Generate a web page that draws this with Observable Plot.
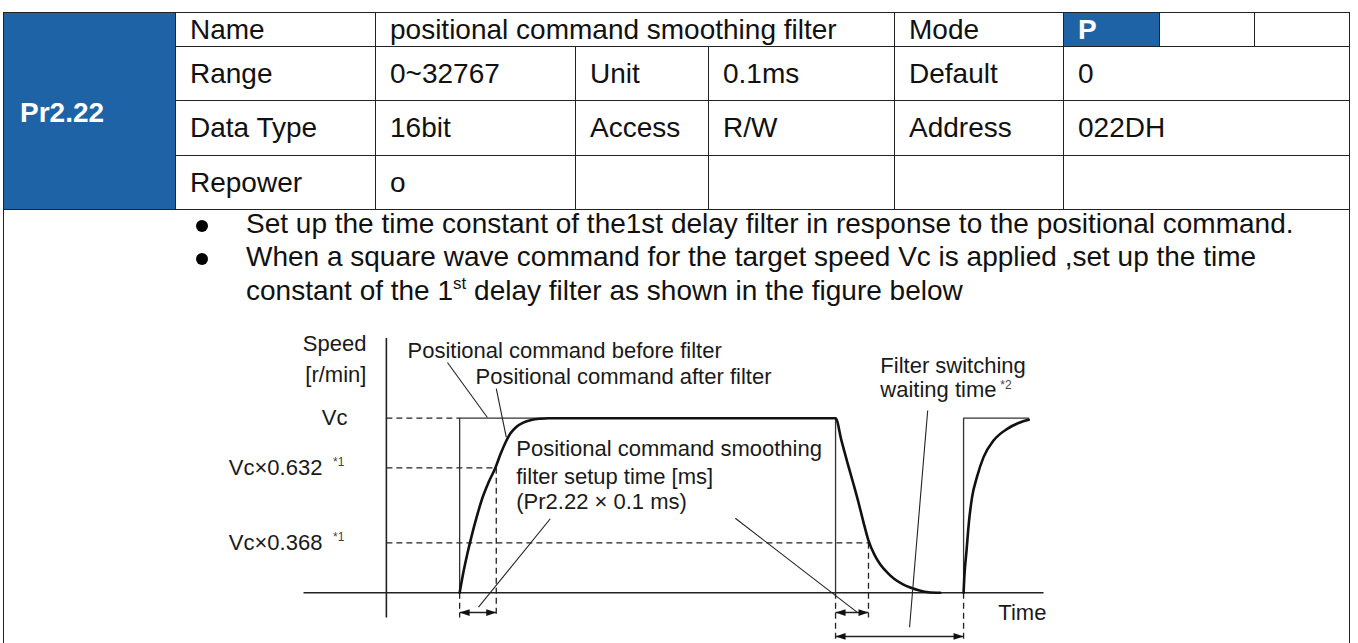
<!DOCTYPE html>
<html>
<head>
<meta charset="utf-8">
<script src="https://cdn.jsdelivr.net/npm/d3@7"></script>
<script src="https://cdn.jsdelivr.net/npm/@observablehq/plot@0.6"></script>
<style>
  body { margin: 0; background: #fff; }
  #page { position: relative; width: 1358px; height: 643px; overflow: hidden;
          font-family: "Liberation Sans", Arial, sans-serif; color: #111; }
  .cell { position: absolute; box-sizing: border-box; border: 1px solid #222;
          font-size: 28px; display: flex; align-items: center; padding-left: 14px;
          white-space: nowrap; background: #fff; }
  .blue { background: #1e63a5; color: #fff; font-weight: bold; }
  .box { position: absolute; box-sizing: border-box; border: 1px solid #222; border-bottom: none; }
  .txt { position: absolute; font-size: 28px; line-height: 33.3px; white-space: nowrap; color: #111; }
  .txt sup { font-size: 17px; vertical-align: 0; position: relative; top: -11px; }
  .bullet { position: absolute; width: 12px; height: 12px; border-radius: 50%; background: #000; }
  #chart { position: absolute; left: 200px; top: 320px; }
</style>
</head>
<body>
<div id="page"></div>
<script>
// ---------------- table contents ----------------
const paramId = "Pr2.22";
const row0Texts = ["Name", "positional command smoothing filter", "Mode", "P", "", ""];
const row1Texts = ["Range", "0~32767", "Unit", "0.1ms", "Default", "0"];
const row2Texts = ["Data Type", "16bit", "Access", "R/W", "Address", "022DH"];
const row3Texts = ["Repower", "o", "", "", "", ""];
const bulletLines = [
  "Set up the time constant of the1st delay filter in response to the positional command.",
  "When a square wave command for the target speed Vc is applied ,set up the time"
];
const continuationLine = ["constant of the 1", "st", " delay filter as shown in the figure below"];

// ---------------- diagram data (time units, speed as fraction of Vc) ----------------
const levelTicks = [
  {v: 1.000, label: "Vc", note: ""},
  {v: 0.716, label: "Vc×0.632", note: "*1"},
  {v: 0.286, label: "Vc×0.368", note: "*1"}
];
const axisTitle = ["Speed", "[r/min]"];
const commandBefore = [
  {t: 19.8, v: 0, s: "a"}, {t: 19.8, v: 1, s: "a"}, {t: 121.4, v: 1, s: "a"}, {t: 121.4, v: 0, s: "a"},
  {t: 156.0, v: 0, s: "b"}, {t: 156.0, v: 1, s: "b"}, {t: 173.6, v: 1, s: "b"}
];
const riseTimes  = [19.8, 20.8, 21.9, 23.0, 24.3, 25.9, 27.6, 29.5, 30.8, 32.2, 33.5, 35.1, 37.0, 39.2, 41.6, 43.8];
const riseSpeeds = [0, 0.116, 0.225, 0.322, 0.426, 0.540, 0.632, 0.718, 0.792, 0.861, 0.912, 0.950, 0.975, 0.990, 0.997, 1];
const fallTimes  = [121.4, 123.0, 124.6, 126.2, 127.6, 128.9, 130.3, 131.9, 133.5, 135.4, 137.3, 139.5, 141.6, 144.1, 146.5, 149.7];
const fallSpeeds = [1, 0.872, 0.746, 0.626, 0.517, 0.408, 0.299, 0.219, 0.162, 0.116, 0.079, 0.050, 0.030, 0.013, 0.003, 0];
const rise2Times  = [156.0, 156.2, 156.8, 157.4, 158.3, 159.6, 161.4, 164.1, 167.8, 171.4, 173.6];
const rise2Speeds = [0, 0.089, 0.242, 0.395, 0.548, 0.662, 0.777, 0.872, 0.939, 0.977, 0.991];
const axisLines = [
  {x1: 0, y1: -0.141, x2: 0, y2: 1.46},
  {x1: -22.4, y1: 0, x2: 177.6, y2: 0}
];
const guides = [
  {x1: 0, y1: 1, x2: 19.8, y2: 1},
  {x1: 0, y1: 0.716, x2: 29.7, y2: 0.716},
  {x1: 0, y1: 0.286, x2: 130.3, y2: 0.286},
  {x1: 29.7, y1: 0.716, x2: 29.7, y2: -0.141},
  {x1: 130.3, y1: 0.286, x2: 130.3, y2: -0.141},
  {x1: 19.8, y1: 0, x2: 19.8, y2: -0.141},
  {x1: 121.4, y1: 0, x2: 121.4, y2: -0.279},
  {x1: 156.0, y1: 0, x2: 156.0, y2: -0.279}
];
const arrows = [
  {x1: 19.8, x2: 29.7, y: -0.113},
  {x1: 121.4, x2: 130.3, y: -0.113},
  {x1: 121.4, x2: 156.0, y: -0.250}
];
const leaders = [
  {x1: 16.5, y1: 1.319, x2: 27.3, y2: 1.004},
  {x1: 29.7, y1: 1.170, x2: 32.4, y2: 0.892},
  {x1: 44.3, y1: 0.424, x2: 24.9, y2: -0.082},
  {x1: 94.3, y1: 0.427, x2: 127.2, y2: -0.111},
  {x1: 146.3, y1: 1.044, x2: 141.4, y2: -0.197}
];
const annotations = [
  {t: 5.7,   v: 1.388, text: "Positional command before filter"},
  {t: 24.1,  v: 1.234, text: "Positional command after filter"},
  {t: 35.1,  v: 0.826, text: "Positional command smoothing"},
  {t: 35.1,  v: 0.662, text: "filter setup time [ms]"},
  {t: 35.1,  v: 0.519, text: "(Pr2.22 × 0.1 ms)"},
  {t: 133.5, v: 1.302, text: "Filter switching"},
  {t: 133.5, v: 1.159, text: "waiting time"},
  {t: 165.4, v: -0.118, text: "Time"}
];
const annotationNotes = [{t: 165.9, v: 1.19, text: "*2"}];

// ---------------- layout ----------------
const colX = [3, 175, 375, 575, 708, 894, 1063, 1159, 1254, 1349];
const rowY = [12, 46, 100, 155, 209];
const row0Spans = [[1, 2], [2, 5], [5, 6], [6, 7], [7, 8], [8, 9]];
const rowNSpans = [[1, 2], [2, 3], [3, 4], [4, 5], [5, 6], [6, 9]];

const page = document.getElementById("page");
function cell(x0, x1, y0, y1, text, cls) {
  const d = document.createElement("div");
  d.className = "cell" + (cls ? " " + cls : "");
  d.style.left = x0 + "px"; d.style.top = y0 + "px";
  d.style.width = (x1 - x0 + 1) + "px"; d.style.height = (y1 - y0 + 1) + "px";
  d.textContent = text;
  page.appendChild(d);
  return d;
}
// description box
const box = document.createElement("div");
box.className = "box";
box.style.left = colX[0] + "px"; box.style.top = rowY[4] + "px";
box.style.width = (colX[9] - colX[0] + 1) + "px"; box.style.height = "500px";
page.appendChild(box);

const pc = cell(colX[0], colX[1], rowY[0], rowY[4], paramId, "blue");
pc.style.paddingLeft = "16px"; pc.style.paddingTop = "3px";
row0Texts.forEach((t, i) => {
  const [a, b] = row0Spans[i];
  cell(colX[a], colX[b], rowY[0], rowY[1], t, t === "P" ? "blue" : "");
});
[row1Texts, row2Texts, row3Texts].forEach((texts, r) => {
  texts.forEach((t, i) => {
    const [a, b] = rowNSpans[i];
    cell(colX[a], colX[b], rowY[r + 1], rowY[r + 2], t, "");
  });
});

// bullet text
const lineTop0 = 207, lineStep = 33.3;
bulletLines.forEach((t, i) => {
  const b = document.createElement("div");
  b.className = "bullet";
  b.style.left = "196px"; b.style.top = (lineTop0 + 13 + i * lineStep) + "px";
  page.appendChild(b);
  const d = document.createElement("div");
  d.className = "txt";
  d.style.left = "246px"; d.style.top = (lineTop0 + i * lineStep) + "px";
  d.textContent = t;
  page.appendChild(d);
});
{
  const d = document.createElement("div");
  d.className = "txt";
  d.style.left = "246px"; d.style.top = (lineTop0 + 2 * lineStep) + "px";
  d.appendChild(document.createTextNode(continuationLine[0]));
  const s = document.createElement("sup"); s.textContent = continuationLine[1];
  d.appendChild(s);
  d.appendChild(document.createTextNode(continuationLine[2]));
  page.appendChild(d);
}

// ---------------- diagram ----------------
const filtered = [
  ...riseTimes.map((t, i) => ({t, v: riseSpeeds[i], s: "a"})),
  ...fallTimes.map((t, i) => ({t, v: fallSpeeds[i], s: "a"})),
  ...rise2Times.map((t, i) => ({t, v: rise2Speeds[i], s: "b"}))
];
const tickMain = levelTicks.map(d => ({v: d.v, text: d.label, t: d.note ? -17.3 : -10.5}));
const tickNotes = levelTicks.filter(d => d.note).map(d => ({v: d.v + 0.03, text: d.note, t: -14.4}));
const titleRows = axisTitle.map((text, i) => ({text, t: -5.4, v: [1.428, 1.246][i]}));

const headRight = {draw(ctx) { ctx.moveTo(0, 0); ctx.lineTo(-10, -3.4); ctx.lineTo(-10, 3.4); ctx.closePath(); }};
const headLeft  = {draw(ctx) { ctx.moveTo(0, 0); ctx.lineTo(10, -3.4); ctx.lineTo(10, 3.4); ctx.closePath(); }};
const ink = "#1a1a1a";

const chart = Plot.plot({
  width: 880, height: 323,
  marginLeft: 103, marginRight: 37, marginTop: 97.7, marginBottom: 50.7,
  x: {domain: [-22.4, 177.6], axis: null},
  y: {domain: [0, 1], axis: null},
  style: {fontFamily: '"Liberation Sans", Arial, sans-serif', background: "transparent", color: ink, overflow: "visible"},
  marks: [
    Plot.link(guides, {x1: "x1", y1: "y1", x2: "x2", y2: "y2", stroke: "#222", strokeWidth: 1.3, strokeDasharray: "6,4"}),
    Plot.link(axisLines, {x1: "x1", y1: "y1", x2: "x2", y2: "y2", stroke: "#222", strokeWidth: 1.6}),
    Plot.line(commandBefore, {x: "t", y: "v", z: "s", stroke: "#333", strokeWidth: 1.3}),
    Plot.line(filtered, {x: "t", y: "v", z: "s", stroke: "#111", strokeWidth: 2.6, curve: "monotone-x"}),
    Plot.link(leaders, {x1: "x1", y1: "y1", x2: "x2", y2: "y2", stroke: "#222", strokeWidth: 1.1}),
    Plot.link(arrows, {x1: "x1", y1: "y", x2: "x2", y2: "y", stroke: "#222", strokeWidth: 1.4}),
    Plot.dot(arrows, {x: "x1", y: "y", symbol: headLeft, fill: "#111", stroke: "none"}),
    Plot.dot(arrows, {x: "x2", y: "y", symbol: headRight, fill: "#111", stroke: "none"}),
    Plot.text(tickMain, {x: "t", y: "v", text: "text", textAnchor: "end", fontSize: 22, fill: ink}),
    Plot.text(tickNotes, {x: "t", y: "v", text: "text", textAnchor: "start", fontSize: 12, fill: "#444"}),
    Plot.text(titleRows, {x: "t", y: "v", text: "text", textAnchor: "end", fontSize: 22, fill: ink}),
    Plot.text(annotations, {x: "t", y: "v", text: "text", textAnchor: "start", fontSize: 22, fill: ink}),
    Plot.text(annotationNotes, {x: "t", y: "v", text: "text", textAnchor: "start", fontSize: 12, fill: "#444"})
  ]
});
chart.id = "chart";
page.appendChild(chart);
</script>
</body>
</html>
